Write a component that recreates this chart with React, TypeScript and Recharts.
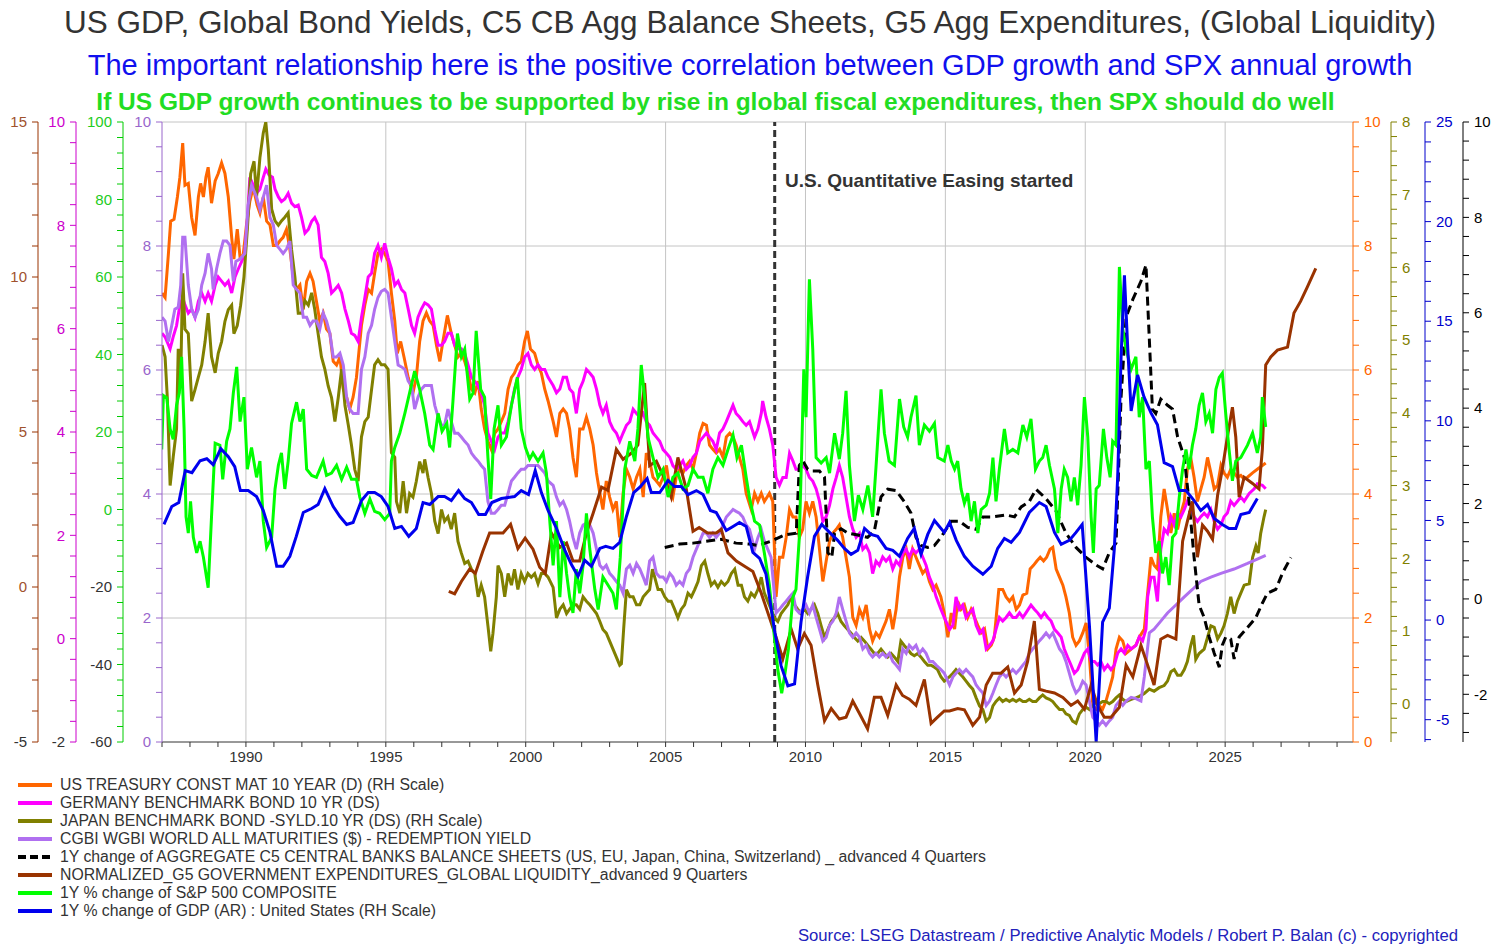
import React from 'react';
import { LineChart, Line, XAxis, YAxis, ReferenceLine } from 'recharts';

type Pt = [number, number];

// [year, value] pairs, each in the units of its own axis

const usTreasury10y: Pt[] = [
  [1987.0, 7.24], [1987.11, 7.17], [1987.23, 7.88], [1987.31, 8.4], [1987.43, 8.43], [1987.55, 8.79], [1987.64, 9.11], [1987.74, 9.66], [1987.82, 8.98], [1987.94, 9.01],
  [1988.06, 8.46], [1988.18, 8.17], [1988.3, 8.79], [1988.38, 9.01], [1988.48, 8.79], [1988.57, 9.11], [1988.65, 9.27], [1988.77, 8.69], [1988.9, 9.05], [1989.01, 9.17],
  [1989.13, 9.34], [1989.25, 9.17], [1989.37, 8.79], [1989.49, 8.14], [1989.57, 7.79], [1989.69, 8.27], [1989.79, 7.82], [1989.9, 7.85], [1990.02, 8.34], [1990.14, 8.72],
  [1990.26, 8.95], [1990.4, 8.66], [1990.5, 8.53], [1990.62, 8.79], [1990.74, 8.4], [1990.86, 8.34], [1990.98, 8.01], [1991.1, 8.01], [1991.21, 8.08], [1991.33, 8.14],
  [1991.45, 8.27], [1991.57, 7.95], [1991.69, 7.5], [1991.81, 7.3], [1991.93, 7.37], [1992.05, 6.98], [1992.17, 7.43], [1992.29, 7.56], [1992.4, 7.43], [1992.52, 7.11],
  [1992.64, 6.79], [1992.76, 6.92], [1992.88, 6.66], [1993.0, 6.59], [1993.12, 6.14], [1993.24, 6.08], [1993.36, 6.21], [1993.48, 5.69], [1993.6, 5.56], [1993.71, 5.37],
  [1993.83, 5.56], [1993.95, 5.88], [1994.13, 6.72], [1994.25, 7.05], [1994.37, 7.3], [1994.49, 7.24], [1994.6, 7.56], [1994.72, 7.88], [1994.84, 7.95], [1994.96, 7.88],
  [1995.08, 7.75], [1995.2, 7.24], [1995.32, 6.79], [1995.41, 6.27], [1995.53, 6.46], [1995.65, 6.21], [1995.8, 5.88], [1995.97, 5.63], [1996.09, 5.88], [1996.21, 6.46],
  [1996.33, 6.79], [1996.45, 6.92], [1996.57, 6.79], [1996.69, 6.72], [1996.81, 6.4], [1996.93, 6.14], [1997.04, 6.46], [1997.2, 6.88], [1997.34, 6.59], [1997.46, 6.4],
  [1997.58, 6.21], [1997.7, 6.27], [1997.82, 6.14], [1997.94, 5.95], [1998.06, 5.69], [1998.18, 5.63], [1998.3, 5.82], [1998.41, 5.37], [1998.53, 5.05], [1998.65, 4.85],
  [1998.77, 4.72], [1998.89, 4.98], [1999.01, 5.05], [1999.13, 5.17], [1999.25, 5.3], [1999.37, 5.69], [1999.49, 5.88], [1999.6, 5.95], [1999.72, 6.08], [1999.84, 6.14],
  [1999.96, 6.46], [2000.06, 6.63], [2000.17, 6.34], [2000.32, 6.27], [2000.44, 6.08], [2000.56, 5.95], [2000.68, 5.69], [2000.8, 5.5], [2000.98, 5.17], [2001.1, 4.92],
  [2001.22, 5.3], [2001.34, 5.37], [2001.46, 5.3], [2001.57, 5.05], [2001.69, 4.59], [2001.81, 4.27], [2001.93, 5.05], [2002.05, 5.05], [2002.17, 5.24], [2002.29, 5.05],
  [2002.41, 4.79], [2002.53, 4.34], [2002.65, 4.01], [2002.76, 3.75], [2002.88, 4.21], [2003.0, 3.95], [2003.12, 3.75], [2003.24, 3.88], [2003.36, 3.3], [2003.48, 4.01],
  [2003.6, 4.4], [2003.72, 4.27], [2003.84, 4.08], [2003.96, 4.27], [2004.08, 4.4], [2004.2, 3.95], [2004.31, 4.66], [2004.43, 4.53], [2004.55, 4.27], [2004.67, 4.21],
  [2004.79, 4.14], [2004.91, 4.27], [2005.03, 4.46], [2005.15, 4.08], [2005.26, 3.95], [2005.38, 4.27], [2005.5, 4.4], [2005.62, 4.34], [2005.74, 4.46], [2005.86, 4.53],
  [2005.98, 4.4], [2006.1, 4.66], [2006.22, 4.98], [2006.34, 5.14], [2006.46, 5.11], [2006.57, 4.79], [2006.69, 4.72], [2006.81, 4.66], [2006.93, 4.72], [2007.05, 4.59],
  [2007.17, 4.92], [2007.29, 4.98], [2007.41, 4.92], [2007.52, 4.79], [2007.64, 4.59], [2007.76, 4.4], [2007.88, 4.01], [2008.06, 3.75], [2008.18, 4.01], [2008.3, 3.88],
  [2008.42, 4.01], [2008.53, 3.88], [2008.71, 4.01], [2008.83, 3.88], [2008.95, 2.34], [2009.07, 2.98], [2009.19, 2.98], [2009.31, 3.3], [2009.43, 3.75], [2009.55, 3.63],
  [2009.66, 3.63], [2009.78, 3.3], [2009.9, 3.43], [2010.02, 3.88], [2010.14, 3.69], [2010.26, 3.88], [2010.38, 3.63], [2010.5, 3.11], [2010.62, 2.59], [2010.74, 2.92],
  [2010.86, 3.24], [2010.98, 3.37], [2011.1, 3.43], [2011.21, 3.5], [2011.33, 3.3], [2011.45, 2.98], [2011.57, 2.66], [2011.69, 2.01], [2011.81, 1.88], [2011.93, 2.14],
  [2012.05, 2.01], [2012.17, 2.21], [2012.29, 1.82], [2012.4, 1.63], [2012.52, 1.76], [2012.64, 1.69], [2012.76, 1.82], [2012.88, 1.95], [2013.0, 2.14], [2013.12, 1.82],
  [2013.24, 2.14], [2013.36, 2.66], [2013.48, 2.98], [2013.6, 3.11], [2013.71, 2.79], [2013.83, 3.11], [2013.95, 2.98], [2014.07, 2.85], [2014.19, 2.72], [2014.31, 2.79],
  [2014.43, 2.59], [2014.55, 2.46], [2014.67, 2.53], [2014.84, 2.34], [2014.96, 2.08], [2015.09, 1.69], [2015.21, 2.08], [2015.33, 1.82], [2015.44, 2.27], [2015.56, 2.14],
  [2015.68, 2.21], [2015.8, 2.01], [2015.92, 2.14], [2016.04, 2.01], [2016.16, 1.88], [2016.28, 1.76], [2016.4, 1.82], [2016.52, 1.5], [2016.64, 1.56], [2016.75, 1.69],
  [2016.91, 2.46], [2017.05, 2.46], [2017.17, 2.34], [2017.29, 2.27], [2017.41, 2.34], [2017.53, 2.14], [2017.65, 2.21], [2017.77, 2.37], [2017.91, 2.4], [2018.03, 2.79],
  [2018.15, 2.85], [2018.27, 2.92], [2018.39, 2.98], [2018.51, 2.92], [2018.62, 2.98], [2018.74, 3.11], [2018.84, 3.14], [2018.96, 2.79], [2019.08, 2.66], [2019.2, 2.53],
  [2019.31, 2.34], [2019.43, 2.08], [2019.55, 1.69], [2019.67, 1.56], [2019.79, 1.63], [2019.91, 1.76], [2020.03, 1.92], [2020.15, 1.37], [2020.27, 0.59], [2020.39, 0.53],
  [2020.5, 0.59], [2020.62, 0.53], [2020.74, 0.66], [2020.86, 0.85], [2020.98, 1.05], [2021.1, 1.5], [2021.22, 1.69], [2021.34, 1.63], [2021.46, 1.43], [2021.64, 1.5],
  [2021.81, 1.56], [2021.93, 1.69], [2022.11, 1.82], [2022.23, 2.4], [2022.35, 2.98], [2022.46, 2.85], [2022.58, 2.79], [2022.7, 3.63], [2022.82, 4.08], [2022.94, 3.75],
  [2023.06, 3.37], [2023.18, 3.69], [2023.3, 3.43], [2023.42, 3.69], [2023.54, 3.88], [2023.65, 4.4], [2023.77, 4.59], [2023.89, 4.27], [2024.01, 3.88], [2024.13, 4.08],
  [2024.25, 4.27], [2024.37, 4.59], [2024.49, 4.34], [2024.61, 4.08], [2024.73, 4.14], [2024.85, 4.46], [2024.96, 4.34], [2025.08, 4.27], [2025.2, 4.4], [2025.32, 4.34],
  [2025.44, 4.27], [2025.56, 4.3], [2025.68, 4.24], [2025.8, 4.27], [2025.98, 4.34], [2026.15, 4.4], [2026.33, 4.46], [2026.45, 4.5],
];

const germany10y: Pt[] = [
  [1987.0, 5.91], [1987.11, 5.84], [1987.29, 5.61], [1987.4, 5.84], [1987.52, 6.06], [1987.64, 6.46], [1987.74, 6.6], [1987.82, 6.46], [1987.94, 6.3], [1988.06, 6.38],
  [1988.18, 6.22], [1988.3, 6.53], [1988.42, 6.69], [1988.54, 6.53], [1988.65, 6.69], [1988.77, 6.53], [1988.9, 6.84], [1989.01, 7.0], [1989.13, 6.92], [1989.25, 6.84],
  [1989.37, 6.92], [1989.49, 6.69], [1989.61, 7.0], [1989.73, 7.16], [1989.85, 7.3], [1989.96, 7.46], [1990.05, 8.08], [1990.14, 8.93], [1990.26, 8.78], [1990.38, 8.62],
  [1990.5, 8.7], [1990.62, 8.93], [1990.71, 9.09], [1990.83, 8.97], [1990.95, 8.93], [1991.04, 8.7], [1991.16, 8.55], [1991.27, 8.46], [1991.39, 8.51], [1991.51, 8.62],
  [1991.63, 8.43], [1991.75, 8.36], [1991.87, 8.39], [1991.99, 8.15], [1992.11, 7.85], [1992.23, 7.92], [1992.35, 8.08], [1992.46, 8.15], [1992.58, 8.01], [1992.7, 7.38],
  [1992.82, 7.3], [1992.94, 7.07], [1993.06, 6.69], [1993.18, 6.76], [1993.3, 6.84], [1993.42, 6.69], [1993.54, 6.38], [1993.66, 6.15], [1993.77, 5.91], [1993.89, 5.87],
  [1994.01, 5.75], [1994.13, 6.22], [1994.25, 6.6], [1994.37, 7.0], [1994.49, 7.07], [1994.6, 7.46], [1994.72, 7.61], [1994.84, 7.38], [1994.96, 7.65], [1995.08, 7.38],
  [1995.2, 7.16], [1995.32, 6.84], [1995.44, 6.92], [1995.56, 6.76], [1995.68, 6.69], [1995.8, 6.38], [1995.92, 6.06], [1996.03, 5.91], [1996.15, 6.22], [1996.27, 6.38],
  [1996.39, 6.5], [1996.51, 6.46], [1996.63, 6.38], [1996.75, 5.99], [1996.87, 5.68], [1996.99, 5.68], [1997.1, 5.75], [1997.22, 5.91], [1997.34, 5.91], [1997.46, 5.68],
  [1997.58, 5.61], [1997.7, 5.61], [1997.82, 5.52], [1997.94, 5.3], [1998.06, 5.06], [1998.18, 4.98], [1998.3, 4.9], [1998.41, 4.76], [1998.53, 4.52], [1998.65, 3.98],
  [1998.77, 3.82], [1998.89, 3.66], [1999.01, 3.9], [1999.13, 3.98], [1999.25, 3.98], [1999.37, 4.2], [1999.49, 4.52], [1999.6, 4.83], [1999.72, 5.06], [1999.84, 5.21],
  [1999.96, 5.45], [2000.08, 5.52], [2000.2, 5.3], [2000.32, 5.21], [2000.44, 5.3], [2000.56, 5.21], [2000.68, 5.21], [2000.8, 5.06], [2000.98, 4.9], [2001.1, 4.76],
  [2001.22, 4.83], [2001.34, 5.06], [2001.46, 5.06], [2001.57, 4.83], [2001.69, 4.76], [2001.81, 4.36], [2001.93, 4.83], [2002.05, 4.98], [2002.17, 5.21], [2002.29, 5.14],
  [2002.41, 5.06], [2002.53, 4.83], [2002.65, 4.52], [2002.76, 4.36], [2002.88, 4.52], [2003.0, 4.2], [2003.12, 4.06], [2003.24, 3.98], [2003.36, 3.82], [2003.48, 3.98],
  [2003.6, 4.13], [2003.72, 4.2], [2003.84, 4.44], [2003.96, 4.36], [2004.08, 4.29], [2004.2, 4.36], [2004.31, 4.2], [2004.43, 4.13], [2004.55, 3.98], [2004.67, 3.9],
  [2004.79, 3.82], [2004.91, 3.66], [2005.03, 3.59], [2005.15, 3.51], [2005.26, 3.35], [2005.38, 3.28], [2005.5, 3.35], [2005.62, 3.44], [2005.74, 3.28], [2005.86, 3.35],
  [2005.98, 3.51], [2006.1, 3.59], [2006.22, 3.82], [2006.34, 3.9], [2006.46, 3.98], [2006.57, 3.9], [2006.69, 3.82], [2006.81, 3.66], [2006.93, 3.98], [2007.05, 4.06],
  [2007.17, 4.2], [2007.29, 4.36], [2007.41, 4.52], [2007.52, 4.36], [2007.64, 4.29], [2007.76, 4.2], [2007.88, 4.13], [2008.0, 4.2], [2008.18, 3.9], [2008.3, 4.06],
  [2008.42, 4.36], [2008.47, 4.6], [2008.59, 4.29], [2008.71, 4.06], [2008.83, 3.75], [2008.95, 3.12], [2009.07, 2.97], [2009.19, 3.12], [2009.31, 3.12], [2009.43, 3.59],
  [2009.55, 3.44], [2009.66, 3.28], [2009.78, 3.28], [2009.9, 3.35], [2010.02, 3.28], [2010.14, 3.12], [2010.26, 3.05], [2010.38, 2.9], [2010.5, 2.66], [2010.62, 2.27],
  [2010.74, 2.36], [2010.86, 2.58], [2010.98, 2.9], [2011.1, 3.12], [2011.21, 3.35], [2011.33, 3.12], [2011.45, 2.74], [2011.57, 2.36], [2011.69, 2.12], [2011.81, 1.96],
  [2011.93, 2.04], [2012.05, 1.73], [2012.17, 1.8], [2012.29, 1.66], [2012.4, 1.26], [2012.52, 1.5], [2012.64, 1.42], [2012.76, 1.58], [2012.88, 1.5], [2013.0, 1.58],
  [2013.12, 1.35], [2013.24, 1.5], [2013.36, 1.42], [2013.48, 1.66], [2013.6, 1.73], [2013.71, 1.58], [2013.83, 1.73], [2013.95, 1.66], [2014.07, 1.73], [2014.19, 1.58],
  [2014.31, 1.42], [2014.43, 1.19], [2014.55, 1.04], [2014.67, 0.81], [2014.84, 0.57], [2014.96, 0.41], [2015.15, 0.18], [2015.27, 0.26], [2015.38, 0.81], [2015.5, 0.57],
  [2015.62, 0.65], [2015.74, 0.41], [2015.86, 0.5], [2015.98, 0.57], [2016.1, 0.26], [2016.22, 0.11], [2016.34, 0.18], [2016.46, -0.2], [2016.58, -0.13], [2016.7, -0.04],
  [2016.81, 0.18], [2016.93, 0.41], [2017.05, 0.34], [2017.17, 0.41], [2017.29, 0.5], [2017.41, 0.41], [2017.53, 0.41], [2017.65, 0.5], [2017.77, 0.41], [2017.88, 0.5],
  [2018.06, 0.65], [2018.18, 0.57], [2018.3, 0.5], [2018.42, 0.41], [2018.54, 0.5], [2018.66, 0.41], [2018.78, 0.34], [2018.9, 0.18], [2019.02, 0.11], [2019.14, 0.03],
  [2019.25, -0.2], [2019.37, -0.36], [2019.49, -0.51], [2019.61, -0.67], [2019.73, -0.6], [2019.85, -0.44], [2019.97, -0.28], [2020.09, -0.2], [2020.21, -0.44], [2020.33, -0.44],
  [2020.44, -0.51], [2020.56, -0.44], [2020.68, -0.6], [2020.8, -0.51], [2020.92, -0.6], [2021.04, -0.51], [2021.16, -0.28], [2021.28, -0.2], [2021.4, -0.28], [2021.52, -0.13],
  [2021.64, -0.2], [2021.81, -0.13], [2021.93, 0.03], [2022.05, -0.04], [2022.17, 0.18], [2022.23, 0.81], [2022.35, 1.19], [2022.46, 1.19], [2022.58, 0.72], [2022.7, 1.73],
  [2022.82, 2.12], [2022.94, 2.04], [2023.06, 2.36], [2023.18, 2.2], [2023.3, 2.43], [2023.42, 2.36], [2023.54, 2.5], [2023.65, 2.66], [2023.77, 2.58], [2023.89, 2.36],
  [2024.01, 2.27], [2024.13, 2.36], [2024.25, 2.43], [2024.37, 2.36], [2024.49, 2.5], [2024.61, 2.27], [2024.73, 2.12], [2024.85, 2.2], [2024.96, 2.36], [2025.08, 2.43],
  [2025.2, 2.66], [2025.32, 2.58], [2025.44, 2.66], [2025.56, 2.74], [2025.68, 2.66], [2025.86, 2.81], [2026.04, 2.9], [2026.15, 3.0], [2026.33, 2.97], [2026.45, 2.9],
];

const japan10y: Pt[] = [
  [1987.0, 4.93], [1987.11, 4.77], [1987.19, 4.21], [1987.29, 3.0], [1987.4, 3.39], [1987.52, 3.78], [1987.58, 4.88], [1987.67, 4.49], [1987.74, 5.92], [1987.82, 5.15],
  [1987.94, 5.09], [1988.06, 4.16], [1988.18, 4.32], [1988.3, 4.49], [1988.42, 4.66], [1988.54, 4.98], [1988.65, 5.37], [1988.77, 4.77], [1988.9, 4.55], [1989.01, 4.82],
  [1989.13, 4.98], [1989.25, 5.26], [1989.37, 5.42], [1989.49, 5.48], [1989.57, 5.09], [1989.69, 5.2], [1989.81, 5.48], [1989.93, 5.87], [1990.05, 6.52], [1990.17, 7.29],
  [1990.29, 7.46], [1990.38, 6.97], [1990.5, 7.51], [1990.62, 7.85], [1990.71, 8.0], [1990.8, 7.62], [1990.92, 6.8], [1991.04, 6.64], [1991.16, 6.58], [1991.27, 6.64],
  [1991.39, 6.69], [1991.51, 6.75], [1991.63, 6.25], [1991.75, 5.87], [1991.87, 5.37], [1991.99, 5.37], [1992.11, 5.54], [1992.23, 5.48], [1992.35, 5.65], [1992.46, 5.42],
  [1992.58, 5.09], [1992.7, 4.77], [1992.82, 4.6], [1992.94, 4.37], [1993.06, 4.21], [1993.18, 3.88], [1993.3, 4.21], [1993.42, 4.6], [1993.54, 4.1], [1993.66, 3.83],
  [1993.77, 3.56], [1993.89, 3.22], [1994.01, 3.06], [1994.13, 3.67], [1994.25, 3.88], [1994.37, 3.94], [1994.49, 4.32], [1994.6, 4.66], [1994.72, 4.73], [1994.84, 4.66],
  [1994.96, 4.66], [1995.08, 4.6], [1995.2, 3.45], [1995.32, 3.39], [1995.38, 2.78], [1995.5, 2.62], [1995.62, 3.06], [1995.74, 2.62], [1995.85, 2.89], [1995.97, 2.84],
  [1996.09, 3.06], [1996.21, 3.33], [1996.33, 3.17], [1996.39, 3.36], [1996.51, 3.11], [1996.63, 2.89], [1996.75, 2.51], [1996.87, 2.34], [1996.99, 2.67], [1997.1, 2.51],
  [1997.22, 2.57], [1997.34, 2.4], [1997.46, 2.62], [1997.58, 2.23], [1997.7, 2.07], [1997.82, 1.93], [1997.94, 1.96], [1998.06, 1.85], [1998.18, 1.79], [1998.3, 1.47],
  [1998.41, 1.63], [1998.53, 1.47], [1998.65, 1.07], [1998.75, 0.72], [1998.83, 0.97], [1998.95, 1.47], [1999.01, 1.9], [1999.13, 1.79], [1999.25, 1.47], [1999.37, 1.79],
  [1999.49, 1.63], [1999.6, 1.85], [1999.72, 1.57], [1999.84, 1.79], [1999.96, 1.68], [2000.08, 1.79], [2000.2, 1.74], [2000.32, 1.79], [2000.44, 1.65], [2000.56, 1.79],
  [2000.68, 1.79], [2000.8, 1.74], [2000.98, 1.6], [2001.1, 1.18], [2001.22, 1.3], [2001.34, 1.36], [2001.46, 1.24], [2001.57, 1.3], [2001.69, 1.36], [2001.81, 1.36],
  [2001.93, 1.3], [2002.05, 1.47], [2002.17, 1.41], [2002.29, 1.36], [2002.41, 1.3], [2002.53, 1.24], [2002.65, 1.13], [2002.76, 1.02], [2002.88, 0.97], [2003.0, 0.86],
  [2003.12, 0.75], [2003.24, 0.64], [2003.36, 0.53], [2003.42, 0.55], [2003.5, 1.02], [2003.6, 1.57], [2003.72, 1.47], [2003.84, 1.47], [2003.96, 1.36], [2004.08, 1.36],
  [2004.2, 1.47], [2004.31, 1.52], [2004.43, 1.57], [2004.53, 1.85], [2004.61, 1.74], [2004.73, 1.57], [2004.85, 1.57], [2004.97, 1.47], [2005.09, 1.41], [2005.2, 1.41],
  [2005.32, 1.3], [2005.44, 1.18], [2005.56, 1.3], [2005.68, 1.36], [2005.8, 1.52], [2005.92, 1.47], [2006.04, 1.57], [2006.16, 1.68], [2006.28, 1.9], [2006.4, 1.96],
  [2006.51, 1.79], [2006.63, 1.63], [2006.75, 1.68], [2006.87, 1.6], [2006.99, 1.68], [2007.11, 1.63], [2007.23, 1.68], [2007.35, 1.79], [2007.47, 1.85], [2007.59, 1.63],
  [2007.71, 1.63], [2007.82, 1.47], [2007.94, 1.41], [2008.06, 1.52], [2008.18, 1.47], [2008.3, 1.57], [2008.42, 1.74], [2008.53, 1.52], [2008.65, 1.41], [2008.77, 1.3],
  [2008.89, 1.18], [2009.01, 1.13], [2009.13, 1.24], [2009.25, 1.3], [2009.37, 1.36], [2009.49, 1.47], [2009.61, 1.36], [2009.72, 1.3], [2009.84, 1.24], [2009.96, 1.3],
  [2010.08, 1.24], [2010.2, 1.3], [2010.32, 1.36], [2010.44, 1.24], [2010.56, 1.07], [2010.68, 0.91], [2010.8, 1.02], [2010.92, 1.13], [2011.04, 1.18], [2011.15, 1.24],
  [2011.27, 1.13], [2011.39, 1.07], [2011.51, 1.02], [2011.63, 0.97], [2011.75, 0.91], [2011.87, 0.86], [2011.99, 0.91], [2012.11, 0.86], [2012.23, 0.8], [2012.34, 0.75],
  [2012.46, 0.69], [2012.58, 0.69], [2012.7, 0.75], [2012.82, 0.69], [2012.94, 0.64], [2013.06, 0.69], [2013.18, 0.64], [2013.3, 0.58], [2013.41, 0.86], [2013.53, 0.8],
  [2013.65, 0.75], [2013.77, 0.69], [2013.89, 0.66], [2014.01, 0.69], [2014.13, 0.64], [2014.25, 0.58], [2014.37, 0.53], [2014.49, 0.53], [2014.61, 0.5], [2014.72, 0.47],
  [2014.84, 0.37], [2014.96, 0.31], [2015.15, 0.37], [2015.27, 0.42], [2015.38, 0.47], [2015.5, 0.42], [2015.62, 0.37], [2015.74, 0.31], [2015.86, 0.25], [2015.98, 0.2],
  [2016.1, 0.08], [2016.22, -0.03], [2016.34, -0.08], [2016.46, -0.24], [2016.58, -0.19], [2016.7, -0.03], [2016.81, 0.03], [2016.93, 0.08], [2017.05, 0.03], [2017.17, 0.06],
  [2017.29, 0.03], [2017.41, 0.06], [2017.53, 0.03], [2017.65, 0.06], [2017.77, 0.03], [2017.88, 0.03], [2018.0, 0.06], [2018.12, 0.03], [2018.24, 0.03], [2018.36, 0.08],
  [2018.48, 0.12], [2018.6, 0.08], [2018.72, 0.06], [2018.84, 0.03], [2018.96, -0.03], [2019.08, -0.08], [2019.2, -0.08], [2019.31, -0.14], [2019.43, -0.16], [2019.55, -0.24],
  [2019.67, -0.27], [2019.79, -0.14], [2019.91, -0.08], [2020.03, -0.05], [2020.15, -0.08], [2020.27, -0.03], [2020.39, 0.03], [2020.5, 0.0], [2020.62, 0.03], [2020.74, 0.03],
  [2020.86, 0.0], [2020.98, 0.03], [2021.1, 0.08], [2021.22, 0.12], [2021.34, 0.06], [2021.46, 0.03], [2021.64, 0.06], [2021.81, 0.08], [2021.93, 0.1], [2022.11, 0.14],
  [2022.29, 0.2], [2022.46, 0.17], [2022.64, 0.22], [2022.82, 0.25], [2022.94, 0.31], [2023.06, 0.44], [2023.18, 0.47], [2023.3, 0.39], [2023.42, 0.39], [2023.54, 0.47],
  [2023.65, 0.58], [2023.77, 0.8], [2023.87, 0.94], [2023.95, 0.61], [2024.07, 0.69], [2024.25, 0.75], [2024.37, 0.91], [2024.49, 1.07], [2024.61, 1.05], [2024.73, 0.89],
  [2024.85, 0.97], [2024.96, 1.07], [2025.08, 1.24], [2025.2, 1.47], [2025.32, 1.24], [2025.44, 1.41], [2025.56, 1.52], [2025.68, 1.63], [2025.86, 1.65], [2025.98, 2.01],
  [2026.1, 2.17], [2026.18, 2.07], [2026.27, 2.34], [2026.39, 2.57], [2026.45, 2.67],
];

const wgbiYield: Pt[] = [
  [1987.0, 6.85], [1987.11, 6.79], [1987.23, 6.46], [1987.35, 6.72], [1987.46, 6.98], [1987.58, 7.01], [1987.67, 7.37], [1987.74, 8.14], [1987.82, 8.14], [1987.94, 7.37],
  [1988.06, 6.98], [1988.18, 6.85], [1988.3, 6.98], [1988.42, 7.37], [1988.54, 7.56], [1988.65, 7.88], [1988.77, 7.63], [1988.83, 7.3], [1988.95, 7.63], [1989.07, 7.88],
  [1989.19, 8.08], [1989.31, 8.08], [1989.43, 8.01], [1989.55, 7.43], [1989.64, 7.75], [1989.79, 7.79], [1989.96, 7.88], [1990.08, 8.66], [1990.2, 8.98], [1990.38, 8.79],
  [1990.5, 8.59], [1990.62, 8.79], [1990.74, 8.98], [1990.86, 8.46], [1990.98, 8.34], [1991.1, 8.01], [1991.21, 7.95], [1991.33, 7.88], [1991.45, 7.95], [1991.57, 8.08],
  [1991.69, 7.37], [1991.81, 7.3], [1991.93, 7.24], [1992.05, 6.85], [1992.17, 6.85], [1992.29, 6.72], [1992.4, 6.79], [1992.52, 6.79], [1992.64, 6.66], [1992.76, 6.92],
  [1992.88, 6.79], [1993.0, 6.59], [1993.12, 6.21], [1993.24, 6.21], [1993.36, 6.27], [1993.48, 6.08], [1993.6, 5.56], [1993.71, 5.37], [1993.83, 5.3], [1994.01, 5.3],
  [1994.13, 6.01], [1994.25, 6.21], [1994.37, 6.59], [1994.49, 6.72], [1994.6, 6.98], [1994.72, 7.17], [1994.84, 7.27], [1994.96, 7.3], [1995.08, 7.24], [1995.2, 6.85],
  [1995.32, 6.46], [1995.44, 6.08], [1995.56, 6.05], [1995.68, 6.01], [1995.8, 5.82], [1995.92, 5.75], [1996.03, 5.37], [1996.15, 5.56], [1996.27, 5.69], [1996.39, 5.75],
  [1996.51, 5.75], [1996.63, 5.75], [1996.75, 5.43], [1996.87, 5.24], [1996.99, 5.11], [1997.1, 5.11], [1997.22, 5.37], [1997.34, 5.17], [1997.46, 4.98], [1997.58, 4.98],
  [1997.7, 4.92], [1997.82, 4.85], [1997.94, 4.79], [1998.06, 4.66], [1998.18, 4.59], [1998.3, 4.53], [1998.41, 4.46], [1998.53, 4.4], [1998.65, 3.88], [1998.77, 3.69],
  [1998.89, 3.69], [1999.01, 3.75], [1999.13, 3.82], [1999.25, 3.82], [1999.37, 4.01], [1999.49, 4.21], [1999.6, 4.27], [1999.72, 4.34], [1999.84, 4.4], [1999.96, 4.4],
  [2000.08, 4.46], [2000.2, 4.46], [2000.32, 4.46], [2000.44, 4.46], [2000.56, 4.4], [2000.68, 4.34], [2000.8, 4.21], [2000.98, 4.14], [2001.1, 3.95], [2001.22, 3.82],
  [2001.34, 3.88], [2001.46, 3.75], [2001.57, 3.56], [2001.69, 3.3], [2001.81, 3.11], [2001.93, 3.37], [2002.05, 3.5], [2002.17, 3.53], [2002.29, 3.5], [2002.41, 3.37],
  [2002.53, 3.11], [2002.65, 2.85], [2002.76, 2.79], [2002.88, 2.85], [2003.0, 2.72], [2003.12, 2.66], [2003.24, 2.59], [2003.36, 2.53], [2003.48, 2.4], [2003.6, 2.79],
  [2003.72, 2.85], [2003.84, 2.72], [2003.96, 2.88], [2004.08, 2.79], [2004.2, 2.66], [2004.31, 2.53], [2004.43, 2.92], [2004.55, 2.98], [2004.67, 2.72], [2004.79, 2.66],
  [2004.91, 2.66], [2005.03, 2.59], [2005.15, 2.72], [2005.26, 2.66], [2005.38, 2.53], [2005.5, 2.59], [2005.62, 2.53], [2005.74, 2.72], [2005.86, 2.79], [2005.98, 2.98],
  [2006.1, 3.11], [2006.22, 3.24], [2006.34, 3.37], [2006.46, 3.37], [2006.57, 3.3], [2006.69, 3.37], [2006.81, 3.3], [2006.93, 3.37], [2007.05, 3.5], [2007.17, 3.63],
  [2007.29, 3.69], [2007.41, 3.75], [2007.52, 3.72], [2007.64, 3.69], [2007.76, 3.63], [2007.88, 3.5], [2008.0, 3.43], [2008.18, 3.11], [2008.3, 3.3], [2008.42, 3.43],
  [2008.53, 3.24], [2008.65, 3.11], [2008.77, 2.98], [2008.95, 2.08], [2009.07, 2.14], [2009.19, 2.21], [2009.31, 2.27], [2009.43, 2.34], [2009.55, 2.4], [2009.66, 2.14],
  [2009.78, 2.08], [2009.9, 2.14], [2010.02, 2.21], [2010.14, 2.08], [2010.26, 2.21], [2010.38, 2.01], [2010.5, 1.82], [2010.62, 1.63], [2010.74, 1.69], [2010.86, 1.88],
  [2010.98, 1.95], [2011.1, 2.08], [2011.21, 2.34], [2011.33, 2.14], [2011.45, 1.95], [2011.57, 1.76], [2011.69, 1.69], [2011.81, 1.76], [2011.93, 1.69], [2012.05, 1.5],
  [2012.17, 1.56], [2012.29, 1.43], [2012.4, 1.37], [2012.52, 1.43], [2012.64, 1.37], [2012.76, 1.43], [2012.88, 1.37], [2013.0, 1.43], [2013.12, 1.3], [2013.24, 1.24],
  [2013.36, 1.17], [2013.48, 1.5], [2013.6, 1.43], [2013.71, 1.56], [2013.83, 1.5], [2013.95, 1.56], [2014.07, 1.43], [2014.19, 1.5], [2014.31, 1.43], [2014.43, 1.3],
  [2014.55, 1.3], [2014.67, 1.24], [2014.84, 1.17], [2014.96, 1.11], [2015.15, 0.92], [2015.27, 1.05], [2015.38, 1.11], [2015.5, 1.17], [2015.62, 1.11], [2015.74, 1.17],
  [2015.86, 1.11], [2015.98, 1.05], [2016.1, 0.92], [2016.22, 0.85], [2016.34, 0.79], [2016.46, 0.59], [2016.58, 0.66], [2016.7, 0.79], [2016.81, 0.92], [2016.93, 1.05],
  [2017.05, 1.11], [2017.17, 1.05], [2017.29, 1.11], [2017.41, 1.17], [2017.53, 1.11], [2017.65, 1.17], [2017.77, 1.24], [2017.88, 1.3], [2018.0, 1.43], [2018.12, 1.5],
  [2018.24, 1.56], [2018.36, 1.63], [2018.48, 1.69], [2018.6, 1.76], [2018.72, 1.69], [2018.84, 1.76], [2018.96, 1.63], [2019.08, 1.5], [2019.2, 1.43], [2019.31, 1.3],
  [2019.43, 1.11], [2019.55, 0.92], [2019.67, 0.79], [2019.79, 0.85], [2019.91, 0.98], [2020.03, 0.92], [2020.15, 0.66], [2020.27, 0.4], [2020.39, 0.34], [2020.5, 0.27],
  [2020.62, 0.34], [2020.74, 0.27], [2020.86, 0.34], [2020.98, 0.4], [2021.1, 0.59], [2021.22, 0.66], [2021.34, 0.59], [2021.46, 0.66], [2021.64, 0.72], [2021.81, 0.7],
  [2021.99, 0.66], [2022.11, 1.05], [2022.29, 1.76], [2022.46, 1.82], [2022.7, 1.95], [2022.94, 2.08], [2023.24, 2.21], [2023.54, 2.34], [2023.83, 2.46], [2024.13, 2.59],
  [2024.49, 2.66], [2024.85, 2.72], [2025.32, 2.79], [2025.8, 2.88], [2026.15, 2.95], [2026.45, 3.01],
];

const c5BalanceSheets: Pt[] = [
  [2004.97, 1.08], [2005.5, 1.15], [2005.98, 1.17], [2006.45, 1.21], [2006.99, 1.25], [2007.52, 1.17], [2008.0, 1.15], [2008.3, 1.12], [2008.77, 1.21], [2009.25, 1.34],
  [2009.67, 1.38], [2009.78, 2.8], [2009.9, 2.9], [2010.08, 2.72], [2010.26, 2.68], [2010.5, 2.68], [2010.68, 2.55], [2010.8, 0.97], [2010.94, 0.87], [2011.04, 1.38],
  [2011.27, 1.47], [2011.51, 1.38], [2011.87, 1.34], [2012.22, 1.29], [2012.46, 1.42], [2012.7, 2.14], [2012.94, 2.3], [2013.24, 2.27], [2013.53, 2.04], [2013.77, 1.8],
  [2013.95, 1.29], [2014.13, 1.12], [2014.37, 1.08], [2014.61, 1.12], [2014.84, 1.29], [2015.21, 1.63], [2015.5, 1.63], [2015.8, 1.5], [2016.1, 1.46], [2016.34, 1.72],
  [2016.69, 1.72], [2017.17, 1.76], [2017.47, 1.72], [2017.71, 1.93], [2018.0, 2.04], [2018.24, 2.3], [2018.6, 2.1], [2018.96, 1.84], [2019.31, 1.38], [2019.67, 1.08],
  [2020.03, 0.87], [2020.39, 0.71], [2020.62, 0.63], [2020.86, 0.97], [2021.1, 1.17], [2021.28, 4.23], [2021.46, 5.91], [2021.7, 6.28], [2021.99, 6.66], [2022.17, 7.0],
  [2022.29, 5.45], [2022.4, 3.98], [2022.52, 3.89], [2022.7, 4.19], [2022.94, 4.06], [2023.12, 3.98], [2023.3, 3.4], [2023.54, 2.97], [2023.71, 2.04], [2023.89, 0.87],
  [2024.07, -0.13], [2024.25, -0.39], [2024.43, -0.8], [2024.61, -1.14], [2024.79, -1.43], [2024.9, -0.97], [2025.02, -0.8], [2025.2, -0.84], [2025.32, -1.26], [2025.5, -0.8],
  [2025.8, -0.6], [2026.1, -0.39], [2026.33, -0.09], [2026.51, 0.12], [2026.81, 0.2], [2027.05, 0.54], [2027.35, 0.87],
];

const g5Expenditures: Pt[] = [
  [1997.25, -0.14], [1997.46, -0.22], [1997.7, 0.18], [1998.0, 0.58], [1998.2, 0.44], [1998.47, 1.16], [1998.71, 1.74], [1998.95, 1.74], [1999.19, 1.74], [1999.46, 2.02],
  [1999.72, 1.24], [1999.98, 1.58], [2000.26, 1.22], [2000.5, 0.64], [2000.7, 0.44], [2000.92, 1.74], [2001.22, 1.28], [2001.46, 1.42], [2001.69, 0.84], [2001.93, 0.84],
  [2002.17, 1.74], [2002.41, 2.38], [2002.71, 3.22], [2002.94, 3.12], [2003.24, 4.44], [2003.48, 4.12], [2003.78, 4.32], [2004.01, 4.58], [2004.25, 6.58], [2004.43, 3.92],
  [2004.67, 4.06], [2004.97, 3.48], [2005.2, 2.9], [2005.44, 4.18], [2005.74, 3.16], [2005.98, 1.8], [2006.2, 1.92], [2006.5, 1.74], [2006.81, 1.74], [2006.99, 1.86],
  [2007.23, 1.1], [2007.53, 0.84], [2007.88, 0.64], [2008.12, 0.5], [2008.42, -0.2], [2008.71, -0.98], [2008.95, -1.62], [2009.19, -2.32], [2009.49, -1.36], [2009.72, -2.0],
  [2009.96, -1.5], [2010.2, -1.88], [2010.44, -3.16], [2010.68, -4.32], [2010.92, -3.92], [2011.21, -4.26], [2011.45, -4.2], [2011.69, -3.68], [2011.93, -4.08], [2012.22, -4.58],
  [2012.46, -3.56], [2012.7, -3.56], [2012.94, -4.14], [2013.24, -3.16], [2013.47, -3.5], [2013.71, -3.62], [2013.95, -3.82], [2014.25, -2.98], [2014.49, -4.4], [2014.72, -4.2],
  [2014.96, -4.0], [2015.15, -4.0], [2015.44, -3.92], [2015.68, -3.96], [2015.98, -4.46], [2016.22, -4.2], [2016.46, -3.16], [2016.69, -2.78], [2016.99, -2.78], [2017.23, -2.58],
  [2017.47, -3.42], [2017.71, -3.16], [2017.94, -2.4], [2018.18, -1.1], [2018.36, -3.3], [2018.6, -3.36], [2018.9, -3.42], [2019.2, -3.56], [2019.49, -3.82], [2019.73, -3.68],
  [2019.97, -3.94], [2020.21, -3.16], [2020.44, -3.82], [2020.68, -4.2], [2020.92, -4.2], [2021.22, -3.88], [2021.46, -2.52], [2021.7, -2.9], [2021.99, -1.88], [2022.23, -2.52],
  [2022.46, -3.16], [2022.7, -1.68], [2022.94, -1.56], [2023.24, -1.68], [2023.48, 1.48], [2023.65, 2.12], [2023.83, 2.76], [2024.01, 0.96], [2024.19, 2.0], [2024.37, 1.8],
  [2024.55, 1.54], [2024.73, 2.96], [2024.9, 3.8], [2025.08, 4.84], [2025.26, 5.8], [2025.38, 4.84], [2025.5, 2.9], [2025.68, 3.54], [2025.98, 3.34], [2026.21, 3.16],
  [2026.33, 4.44], [2026.45, 7.16], [2026.63, 7.42], [2026.87, 7.64], [2027.23, 7.74], [2027.46, 8.84], [2027.7, 9.22], [2027.94, 9.68], [2028.24, 10.28],
];

const spxYoY: Pt[] = [
  [1986.99, 15.5], [1987.05, 29.4], [1987.17, 28.8], [1987.29, 20.8], [1987.4, 18.1], [1987.52, 26.9], [1987.62, 30.1], [1987.7, 39.4], [1987.79, 20.8], [1987.86, -1.9],
  [1987.94, -6.1], [1988.02, 2.1], [1988.12, -7.2], [1988.24, -11.2], [1988.36, -8.2], [1988.48, -12.3], [1988.65, -20.2], [1988.77, -1.9], [1988.9, 17.1], [1989.07, 16.6],
  [1989.17, 7.8], [1989.31, 17.6], [1989.43, 20.8], [1989.55, 30.1], [1989.67, 36.8], [1989.79, 22.7], [1989.93, 29.0], [1990.05, 10.4], [1990.2, 16.0], [1990.38, 8.3],
  [1990.5, 12.5], [1990.62, -3.0], [1990.74, -9.8], [1990.92, -7.2], [1991.04, 5.3], [1991.16, 11.4], [1991.27, 14.6], [1991.39, 5.3], [1991.51, 12.5], [1991.63, 22.2],
  [1991.81, 27.7], [1991.93, 22.7], [1992.05, 25.9], [1992.17, 10.4], [1992.35, 8.8], [1992.52, 8.3], [1992.76, 12.5], [1992.88, 8.8], [1993.06, 9.4], [1993.24, 11.4],
  [1993.42, 7.8], [1993.6, 10.9], [1993.77, 7.8], [1993.95, 7.8], [1994.07, 3.2], [1994.25, -1.0], [1994.43, 2.7], [1994.6, -0.5], [1994.78, -1.0], [1994.96, -2.6],
  [1995.14, -1.0], [1995.2, 12.5], [1995.32, 16.0], [1995.5, 19.7], [1995.68, 24.8], [1995.85, 30.1], [1996.03, 35.7], [1996.21, 31.0], [1996.39, 24.8], [1996.57, 16.6],
  [1996.69, 15.5], [1996.87, 24.8], [1997.01, 20.2], [1997.18, 22.2], [1997.28, 16.0], [1997.4, 28.0], [1997.56, 45.4], [1997.7, 39.4], [1997.82, 41.4], [1998.0, 28.5],
  [1998.12, 30.1], [1998.23, 46.1], [1998.39, 31.0], [1998.53, 29.0], [1998.65, 13.4], [1998.75, 2.7], [1998.87, 20.8], [1999.01, 26.9], [1999.13, 16.6], [1999.31, 18.7],
  [1999.49, 26.9], [1999.7, 34.1], [1999.84, 20.8], [1999.99, 16.0], [2000.14, 13.0], [2000.26, 14.6], [2000.44, 12.5], [2000.62, 14.6], [2000.74, 9.4], [2000.85, -1.9],
  [2000.98, -14.4], [2001.1, -3.0], [2001.22, -22.6], [2001.34, -8.2], [2001.46, -16.5], [2001.57, -22.6], [2001.69, -26.7], [2001.81, -15.4], [2001.93, -21.6], [2002.05, -14.4],
  [2002.17, -1.0], [2002.29, -10.2], [2002.47, -20.6], [2002.59, -25.8], [2002.76, -17.4], [2002.94, -19.5], [2003.12, -21.6], [2003.24, -25.8], [2003.38, -12.3], [2003.54, 10.4],
  [2003.72, 17.6], [2003.9, 12.5], [2004.01, 20.8], [2004.13, 37.3], [2004.25, 29.0], [2004.37, 18.7], [2004.55, 13.4], [2004.73, 8.3], [2004.91, 10.4], [2005.09, 3.2],
  [2005.26, 8.3], [2005.44, 9.4], [2005.62, 5.3], [2005.8, 6.2], [2005.98, 10.4], [2006.16, 8.3], [2006.34, 8.3], [2006.51, 4.2], [2006.69, 10.4], [2006.87, 13.4],
  [2007.05, 11.4], [2007.23, 15.5], [2007.41, 19.2], [2007.55, 13.4], [2007.71, 16.6], [2007.88, 8.3], [2008.0, 3.0], [2008.18, -3.0], [2008.36, -4.0], [2008.53, -11.2],
  [2008.71, -19.5], [2008.89, -33.0], [2009.01, -41.3], [2009.15, -47.4], [2009.27, -42.2], [2009.39, -36.0], [2009.55, -22.6], [2009.66, -20.6], [2009.78, -7.2], [2009.87, 16.6],
  [2009.94, 36.2], [2010.02, 23.8], [2010.14, 59.4], [2010.26, 41.4], [2010.38, 13.4], [2010.56, 12.0], [2010.74, 13.4], [2010.86, 9.4], [2011.04, 19.7], [2011.21, 13.0],
  [2011.33, 19.7], [2011.45, 30.6], [2011.57, 11.4], [2011.75, -3.0], [2011.89, 3.7], [2012.05, 0.0], [2012.23, 6.2], [2012.4, -1.9], [2012.52, 10.9], [2012.7, 31.0],
  [2012.82, 19.7], [2012.99, 12.5], [2013.18, 11.4], [2013.36, 28.5], [2013.51, 21.3], [2013.65, 18.7], [2013.77, 23.8], [2013.95, 29.4], [2014.07, 16.6], [2014.25, 21.8],
  [2014.43, 20.2], [2014.61, 22.2], [2014.73, 13.4], [2014.96, 12.5], [2015.09, 16.6], [2015.21, 12.5], [2015.33, 10.4], [2015.44, 12.5], [2015.56, 5.3], [2015.68, 1.6],
  [2015.8, 4.2], [2015.92, -3.0], [2016.04, 2.1], [2016.16, -6.1], [2016.28, 0.0], [2016.46, 1.1], [2016.58, 4.2], [2016.7, 13.4], [2016.81, 2.1], [2016.93, 10.4],
  [2017.11, 20.8], [2017.23, 14.6], [2017.41, 15.5], [2017.59, 14.6], [2017.77, 21.8], [2017.91, 18.7], [2018.06, 23.4], [2018.22, 10.4], [2018.36, 12.5], [2018.48, 13.4],
  [2018.6, 16.6], [2018.72, 11.4], [2018.9, 5.3], [2019.02, -6.1], [2019.14, 5.3], [2019.25, 10.4], [2019.37, 8.3], [2019.49, 2.1], [2019.61, 8.3], [2019.73, 1.1],
  [2019.85, 11.4], [2019.97, 29.0], [2020.09, 18.7], [2020.21, -1.9], [2020.29, -11.2], [2020.39, 5.3], [2020.5, 6.2], [2020.65, 20.8], [2020.77, 13.4], [2020.89, 8.3],
  [2020.98, 17.6], [2021.1, 16.6], [2021.22, 62.6], [2021.34, 46.6], [2021.46, 41.4], [2021.64, 36.2], [2021.81, 39.4], [2021.93, 23.8], [2022.05, 29.0], [2022.17, 10.4],
  [2022.29, 12.5], [2022.4, -1.9], [2022.52, -11.2], [2022.64, -8.2], [2022.76, -16.5], [2022.88, -12.3], [2023.0, -19.5], [2023.12, -7.2], [2023.24, -6.1], [2023.36, 3.2],
  [2023.48, 10.4], [2023.6, 15.5], [2023.71, 10.4], [2023.83, 16.6], [2023.95, 20.8], [2024.07, 26.9], [2024.19, 30.1], [2024.31, 22.7], [2024.43, 24.8], [2024.55, 19.7],
  [2024.67, 31.0], [2024.79, 34.1], [2024.9, 35.2], [2025.02, 24.8], [2025.14, 15.5], [2025.26, 7.4], [2025.38, 12.5], [2025.56, 13.4], [2025.8, 16.6], [2025.98, 19.7],
  [2026.15, 14.6], [2026.27, 18.7], [2026.33, 29.0], [2026.45, 21.3],
];

const usGdpYoY: Pt[] = [
  [1987.07, 4.8], [1987.35, 5.7], [1987.6, 5.9], [1987.83, 7.5], [1988.07, 7.4], [1988.36, 8.0], [1988.6, 8.1], [1988.83, 7.8], [1989.1, 8.6], [1989.37, 8.2],
  [1989.6, 7.7], [1989.8, 6.5], [1990.08, 6.5], [1990.38, 6.2], [1990.62, 5.5], [1990.86, 4.4], [1991.1, 2.7], [1991.33, 2.7], [1991.57, 3.2], [1991.8, 4.2],
  [1992.05, 5.4], [1992.35, 5.6], [1992.58, 5.8], [1992.82, 6.6], [1993.12, 5.7], [1993.36, 5.2], [1993.6, 4.8], [1993.83, 4.9], [1994.13, 6.0], [1994.37, 6.4],
  [1994.6, 6.4], [1994.84, 6.2], [1995.08, 5.7], [1995.32, 4.6], [1995.56, 4.7], [1995.82, 4.2], [1996.09, 4.6], [1996.33, 5.9], [1996.57, 5.8], [1996.87, 6.2],
  [1997.1, 6.2], [1997.34, 6.0], [1997.6, 6.5], [1997.82, 6.1], [1998.06, 5.9], [1998.32, 5.3], [1998.56, 5.3], [1998.79, 5.9], [1999.13, 6.1], [1999.6, 6.2],
  [1999.84, 6.5], [2000.1, 6.3], [2000.34, 7.5], [2000.56, 6.4], [2000.8, 5.5], [2001.1, 4.6], [2001.4, 3.5], [2001.63, 2.8], [2001.87, 2.2], [2002.11, 3.0],
  [2002.35, 2.7], [2002.65, 3.6], [2002.86, 3.7], [2003.12, 3.6], [2003.36, 3.9], [2003.6, 5.2], [2003.86, 6.4], [2004.1, 6.7], [2004.34, 7.1], [2004.49, 6.4],
  [2004.79, 6.4], [2005.09, 7.0], [2005.32, 6.7], [2005.56, 6.7], [2005.8, 6.3], [2006.1, 6.5], [2006.34, 6.3], [2006.6, 5.5], [2006.81, 5.4], [2007.17, 4.5],
  [2007.41, 4.7], [2007.64, 4.9], [2007.88, 4.7], [2008.12, 3.4], [2008.36, 3.1], [2008.59, 2.3], [2008.89, -0.5], [2009.13, -2.3], [2009.37, -3.3], [2009.61, -3.2],
  [2009.84, -0.1], [2010.08, 2.2], [2010.32, 4.2], [2010.58, 4.8], [2010.86, 4.4], [2011.15, 4.0], [2011.39, 3.6], [2011.63, 3.3], [2011.87, 3.5], [2012.11, 4.6],
  [2012.34, 4.3], [2012.58, 4.2], [2012.88, 3.6], [2013.12, 3.5], [2013.36, 3.2], [2013.65, 4.1], [2013.89, 4.6], [2014.13, 3.3], [2014.37, 4.3], [2014.61, 5.0],
  [2014.96, 4.4], [2015.15, 4.9], [2015.39, 4.0], [2015.68, 3.2], [2015.98, 2.7], [2016.34, 2.3], [2016.64, 2.7], [2016.87, 3.6], [2017.11, 4.1], [2017.35, 3.9],
  [2017.65, 4.4], [2018.0, 5.4], [2018.36, 5.9], [2018.6, 5.7], [2018.9, 4.4], [2019.14, 3.8], [2019.43, 4.0], [2019.67, 4.4], [2019.89, 4.8], [2020.15, -0.3],
  [2020.39, -6.1], [2020.62, -0.1], [2020.86, 0.6], [2021.04, 3.6], [2021.16, 7.2], [2021.28, 13.2], [2021.4, 17.3], [2021.52, 13.6], [2021.64, 10.5], [2021.87, 12.3],
  [2022.1, 11.2], [2022.35, 10.4], [2022.58, 9.8], [2022.82, 7.9], [2023.12, 7.7], [2023.36, 6.5], [2023.6, 6.5], [2023.89, 6.0], [2024.13, 5.5], [2024.37, 5.8],
  [2024.61, 5.1], [2024.9, 4.8], [2025.14, 4.6], [2025.38, 4.6], [2025.56, 5.3], [2025.86, 5.4], [2026.15, 6.1],
];

const legendLabels = [
  'US TREASURY CONST MAT 10 YEAR (D) (RH Scale)',
  'GERMANY BENCHMARK BOND 10 YR (DS)',
  'JAPAN BENCHMARK BOND -SYLD.10 YR (DS) (RH Scale)',
  'CGBI WGBI WORLD ALL MATURITIES ($) - REDEMPTION YIELD',
  '1Y change of AGGREGATE C5 CENTRAL BANKS BALANCE SHEETS (US, EU, Japan, China, Switzerland) _ advanced 4 Quarters',
  'NORMALIZED_G5 GOVERNMENT EXPENDITURES_GLOBAL LIQUIDITY_advanced 9 Quarters',
  '1Y % change of S&P 500 COMPOSITE',
  '1Y % change of GDP (AR) : United States (RH Scale)',
];

const xLabelYears = [1990, 1995, 2000, 2005, 2010, 2015, 2020, 2025];
const xDomain: [number, number] = [1987, 2029.57];
const gridLevels = [2, 4, 6, 8, 10];
const qeStartYear = 2008.9;
const qeLabel = 'U.S. Quantitative Easing started';

const FONT = '"Liberation Sans", Arial, Helvetica, sans-serif';

// tick positions between lo and hi, every step
const steps = (lo: number, hi: number, step: number) => {
  const out: number[] = [];
  for (let v = lo; v <= hi + 1e-9; v += step) out.push(Math.round(v * 1000) / 1000);
  return out;
};

// recharts orders same-side axes by id, first id sits next to the plot
const AXES = [
  { id: 'L1purple', side: 'left', width: 39, domain: [0, 10], major: [0, 2, 4, 6, 8, 10], minor: steps(0, 10, 0.4), line: '#9966cc', text: '#9966cc', neg: '#9966cc' },
  { id: 'L2green', side: 'left', width: 47, domain: [-60, 100], major: [-60, -40, -20, 0, 20, 40, 60, 80, 100], minor: steps(-60, 100, 4), line: '#00cc00', text: '#22cc22', neg: '#333333' },
  { id: 'L3magenta', side: 'left', width: 38, domain: [-2, 10], major: [-2, 0, 2, 4, 6, 8, 10], minor: steps(-2, 10, 0.4), line: '#cc00cc', text: '#cc00cc', neg: '#333333' },
  { id: 'L4brown', side: 'left', width: 38, domain: [-5, 15], major: [-5, 0, 5, 10, 15], minor: steps(-5, 15, 1), line: '#993300', text: '#a0522d', neg: '#333333' },
  { id: 'R1orange', side: 'right', width: 38, domain: [0, 10], major: [0, 2, 4, 6, 8, 10], minor: steps(0, 10, 0.4), line: '#ff6600', text: '#ff6600', neg: '#ff6600' },
  { id: 'R2olive', side: 'right', width: 34, domain: [-0.527, 8], major: [0, 1, 2, 3, 4, 5, 6, 7, 8], minor: steps(-0.4, 8, 0.2), line: '#808000', text: '#808000', neg: '#808000' },
  { id: 'R3blue', side: 'right', width: 38, domain: [-6.12, 25], major: [-5, 0, 5, 10, 15, 20, 25], minor: steps(-6, 25, 1), line: '#0000cc', text: '#0000cc', neg: '#0000cc' },
  { id: 'R4black', side: 'right', width: 37, domain: [-3, 10], major: [-2, 0, 2, 4, 6, 8, 10], minor: steps(-2.8, 10, 0.4), line: '#000000', text: '#000000', neg: '#000000' },
];

const SERIES = [
  { key: 'ust', label: legendLabels[0], data: usTreasury10y, color: '#ff6600', axis: 'R1orange' },
  { key: 'bund', label: legendLabels[1], data: germany10y, color: '#ff00ff', axis: 'L3magenta' },
  { key: 'jgb', label: legendLabels[2], data: japan10y, color: '#808000', axis: 'R2olive' },
  { key: 'wgbi', label: legendLabels[3], data: wgbiYield, color: '#b070f0', axis: 'L1purple' },
  { key: 'c5', label: legendLabels[4], data: c5BalanceSheets, color: '#000000', axis: 'R4black', dash: '9 5' },
  { key: 'g5', label: legendLabels[5], data: g5Expenditures, color: '#993300', axis: 'L4brown' },
  { key: 'spx', label: legendLabels[6], data: spxYoY, color: '#00ff00', axis: 'L2green' },
  { key: 'gdp', label: legendLabels[7], data: usGdpYoY, color: '#0000ee', axis: 'R3blue' },
];

const makeYTick = (major: number[], color: string, neg: string) => (props: any) => {
  const { x, y, payload, textAnchor } = props;
  const v = Math.round(payload.value * 1000) / 1000;
  if (!major.includes(v)) return <g />;
  return (
    <text x={x} y={y} dy="0.35em" textAnchor={textAnchor} fill={v < 0 ? neg : color} fontSize={15} fontFamily={FONT}>
      {v}
    </text>
  );
};

const XTick = (props: any) => {
  const { x, y, payload } = props;
  if (!xLabelYears.includes(payload.value)) return <g />;
  return (
    <text x={x} y={y} dy="0.71em" textAnchor="middle" fill="#333" fontSize={15} fontFamily={FONT}>
      {payload.value}
    </text>
  );
};

const App: React.FC = () => {
  const xTicks = steps(1987, 2029, 1);
  return (
    <div style={{ position: 'absolute', left: 0, top: 0, width: 1500, height: 950, background: '#fff', fontFamily: FONT, overflow: 'hidden' }}>
      <div style={{ position: 'absolute', top: 4, left: 0, width: 1500, textAlign: 'center', fontSize: 31.5, lineHeight: '36px', color: '#333', whiteSpace: 'nowrap' }}>
        US GDP, Global Bond Yields, C5 CB Agg Balance Sheets, G5 Agg Expenditures, (Global Liquidity)
      </div>
      <div style={{ position: 'absolute', top: 48, left: 0, width: 1500, textAlign: 'center', fontSize: 29, lineHeight: '34px', color: '#1010ee', whiteSpace: 'nowrap' }}>
        The important relationship here is the positive correlation between GDP growth and SPX annual growth
      </div>
      <div style={{ position: 'absolute', top: 89, left: 0, width: 1431, textAlign: 'center', fontSize: 24.5, fontWeight: 'bold', lineHeight: '25px', color: '#22dd22', whiteSpace: 'nowrap' }}>
        If US GDP growth continues to be supported by rise in global fiscal expenditures, then SPX should do well
      </div>

      <LineChart width={1500} height={950} margin={{ top: 122, right: 0, bottom: 178, left: 0 }} style={{ position: 'absolute', left: 0, top: 0 }}>
        <XAxis
          dataKey="x"
          type="number"
          domain={xDomain}
          allowDataOverflow
          ticks={xTicks}
          interval={0}
          tick={<XTick />}
          tickSize={5}
          tickMargin={4}
          height={30}
          axisLine={{ stroke: '#333' }}
          tickLine={{ stroke: '#333' }}
        />
        {AXES.map((a) => (
          <YAxis
            key={a.id}
            yAxisId={a.id}
            orientation={a.side as 'left' | 'right'}
            width={a.width}
            type="number"
            domain={a.domain}
            allowDataOverflow
            ticks={a.minor}
            interval={0}
            tick={makeYTick(a.major, a.text, a.neg)}
            tickSize={6}
            tickMargin={5}
            axisLine={{ stroke: a.line }}
            tickLine={{ stroke: a.line }}
          />
        ))}
        {gridLevels.map((g) => (
          <ReferenceLine key={'h' + g} yAxisId="R1orange" y={g} stroke="#c4c4c4" strokeWidth={1} />
        ))}
        {xLabelYears.map((yr) => (
          <ReferenceLine key={'v' + yr} yAxisId="R1orange" x={yr} stroke="#c4c4c4" strokeWidth={1} />
        ))}
        <ReferenceLine yAxisId="R1orange" x={qeStartYear} stroke="#333" strokeWidth={3} strokeDasharray="7 4" />
        {SERIES.map((s) => (
          <Line
            key={s.key}
            yAxisId={s.axis}
            data={s.data.map(([x, y]) => ({ x, y }))}
            dataKey="y"
            type="linear"
            stroke={s.color}
            strokeWidth={3}
            strokeDasharray={s.dash}
            dot={false}
            activeDot={false}
            isAnimationActive={false}
          />
        ))}
      </LineChart>

      <div style={{ position: 'absolute', left: 785, top: 170, fontSize: 19, fontWeight: 'bold', color: '#333', whiteSpace: 'nowrap' }}>
        {qeLabel}
      </div>

      <div style={{ position: 'absolute', left: 18, top: 776 }}>
        {SERIES.map((s) => (
          <div key={s.key} style={{ display: 'flex', alignItems: 'center', height: 18 }}>
            <svg width={36} height={6} style={{ flex: 'none' }}>
              <line x1={0} y1={3} x2={34} y2={3} stroke={s.color} strokeWidth={4} strokeDasharray={s.dash ? '8 4' : undefined} />
            </svg>
            <span style={{ marginLeft: 6, fontSize: 15.8, color: '#333', whiteSpace: 'nowrap' }}>{s.label}</span>
          </div>
        ))}
      </div>

      <div style={{ position: 'absolute', right: 42, top: 926, fontSize: 16.7, color: '#2222bb', whiteSpace: 'nowrap' }}>
        Source: LSEG Datastream / Predictive Analytic Models / Robert P. Balan (c) - copyrighted
      </div>
    </div>
  );
};

export default App;
